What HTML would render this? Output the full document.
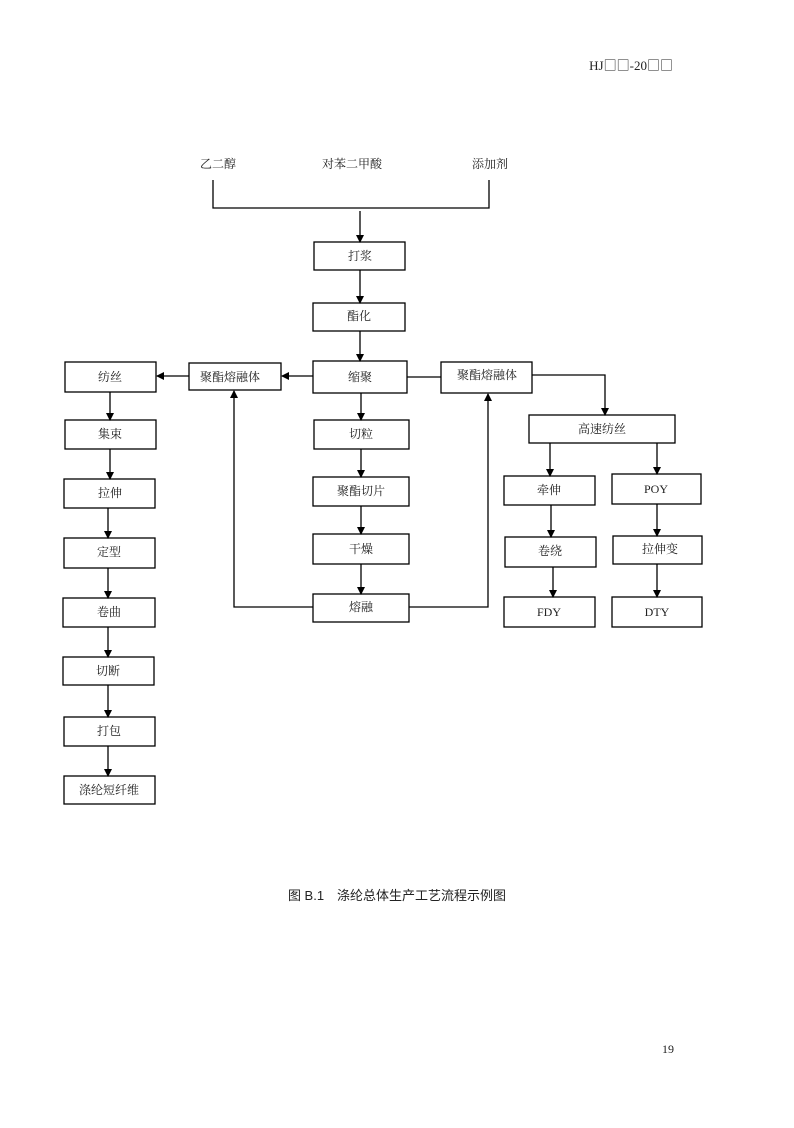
<!DOCTYPE html>
<html><head><meta charset="utf-8"><style>
body{margin:0;background:#fff}
svg text{font-family:"Liberation Serif","Noto Serif CJK SC",serif;font-size:12px;fill:#222}
</style></head><body>
<svg width="794" height="1123" xmlns="http://www.w3.org/2000/svg">
<defs><marker id="a" markerWidth="8" markerHeight="8" refX="7" refY="4" orient="auto" markerUnits="userSpaceOnUse"><path d="M0,0L8,4L0,8z" fill="#000"/></marker></defs>
<text x="673" y="70" text-anchor="end" style="font-family:'Liberation Serif','Noto Sans CJK SC',sans-serif;font-size:13px">HJ<tspan style="font-family:'Noto Sans CJK SC'">□□</tspan>-20<tspan style="font-family:'Noto Sans CJK SC'">□□</tspan></text>
<text x="674" y="1053" text-anchor="end">19</text>
<text x="397" y="900" text-anchor="middle" style="font-family:'Liberation Sans','Noto Sans CJK SC',sans-serif;font-size:13px">图 B.1　涤纶总体生产工艺流程示例图</text>
<text x="218" y="168" text-anchor="middle">乙二醇</text>
<text x="352" y="168" text-anchor="middle">对苯二甲酸</text>
<text x="490" y="168" text-anchor="middle">添加剂</text>
<g fill="none" stroke="#000" stroke-width="1.3">
<path d="M213,180V208H489V180"/>
<g marker-end="url(#a)">
<path d="M360,211V242"/><path d="M360,270V303"/><path d="M360,331V361"/>
<path d="M313,376H282"/><path d="M189,376H157"/>
<path d="M361,393V420"/><path d="M361,449V477"/><path d="M361,506V534"/><path d="M361,564V594"/>
<path d="M313,607H234V391"/><path d="M409,607H488V394"/>
<path d="M532,375H605V415"/>
<path d="M550,443V476"/><path d="M657,443V474"/>
<path d="M551,505V537"/><path d="M657,504V536"/>
<path d="M553,567V597"/><path d="M657,564V597"/>
<path d="M110,392V420"/><path d="M110,449V479"/><path d="M108,508V538"/><path d="M108,568V598"/><path d="M108,627V657"/><path d="M108,685V717"/><path d="M108,746V776"/>
</g>
<path d="M407,377H441"/>
<rect x="314" y="242" width="91" height="28"/>
<rect x="313" y="303" width="92" height="28"/>
<rect x="313" y="361" width="94" height="32"/>
<rect x="189" y="363" width="92" height="27"/>
<rect x="65" y="362" width="91" height="30"/>
<rect x="441" y="362" width="91" height="31"/>
<rect x="314" y="420" width="95" height="29"/>
<rect x="313" y="477" width="96" height="29"/>
<rect x="313" y="534" width="96" height="30"/>
<rect x="313" y="594" width="96" height="28"/>
<rect x="529" y="415" width="146" height="28"/>
<rect x="504" y="476" width="91" height="29"/>
<rect x="612" y="474" width="89" height="30"/>
<rect x="505" y="537" width="91" height="30"/>
<rect x="613" y="536" width="89" height="28"/>
<rect x="504" y="597" width="91" height="30"/>
<rect x="612" y="597" width="90" height="30"/>
<rect x="65" y="420" width="91" height="29"/>
<rect x="64" y="479" width="91" height="29"/>
<rect x="64" y="538" width="91" height="30"/>
<rect x="63" y="598" width="92" height="29"/>
<rect x="63" y="657" width="91" height="28"/>
<rect x="64" y="717" width="91" height="29"/>
<rect x="64" y="776" width="91" height="28"/>
</g>
<g text-anchor="middle">
<text x="360" y="260">打浆</text>
<text x="359" y="320">酯化</text>
<text x="360" y="381">缩聚</text>
<text x="230" y="381">聚酯熔融体</text>
<text x="110" y="381">纺丝</text>
<text x="487" y="379">聚酯熔融体</text>
<text x="361" y="438">切粒</text>
<text x="361" y="495">聚酯切片</text>
<text x="361" y="553">干燥</text>
<text x="361" y="611">熔融</text>
<text x="602" y="433">高速纺丝</text>
<text x="549" y="494">牵伸</text>
<text x="656" y="493">POY</text>
<text x="550" y="555">卷绕</text>
<text x="660" y="553">拉伸变</text>
<text x="549" y="616">FDY</text>
<text x="657" y="616">DTY</text>
<text x="110" y="438">集束</text>
<text x="110" y="497">拉伸</text>
<text x="109" y="556">定型</text>
<text x="109" y="616">卷曲</text>
<text x="108" y="675">切断</text>
<text x="109" y="735">打包</text>
<text x="109" y="794">涤纶短纤维</text>
</g>
</svg>
</body></html>
